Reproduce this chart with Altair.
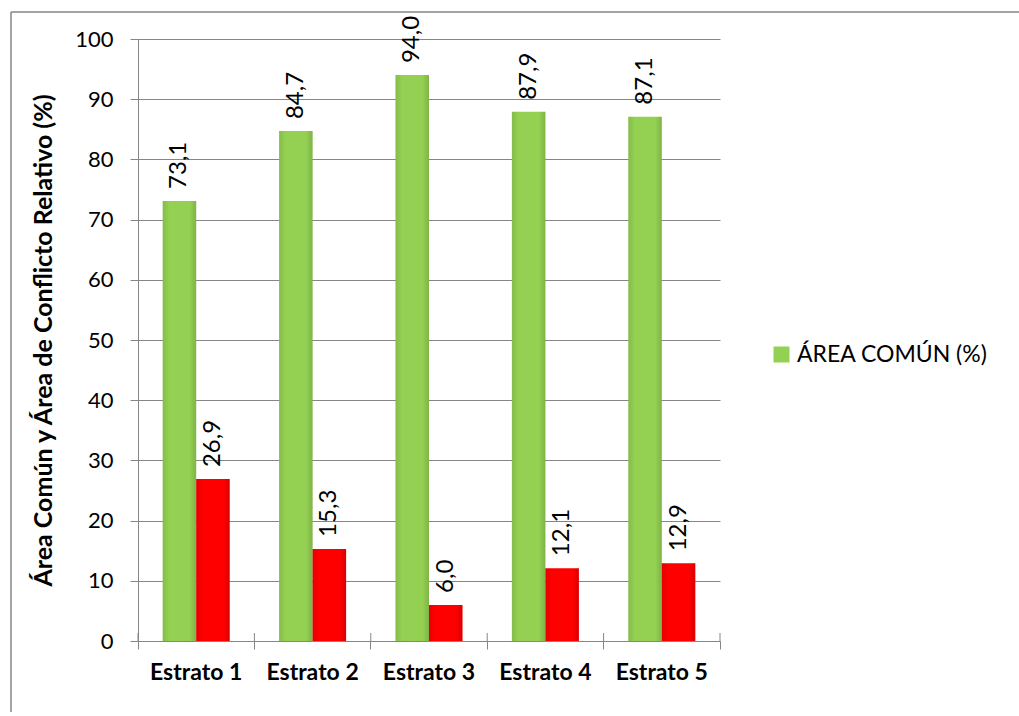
import altair as alt
import pandas as pd

# Data
estratos = ["Estrato 1", "Estrato 2", "Estrato 3", "Estrato 4", "Estrato 5"]
area_comun = [73.1, 84.7, 94.0, 87.9, 87.1]
area_conflicto = [26.9, 15.3, 6.0, 12.1, 12.9]
series = ["ÁREA COMÚN (%)", "ÁREA DE CONFLICTO RELATIVO (%)"]
colores = ["#94D152", "#FF0000"]
y_ticks = list(range(0, 101, 10))

rows = []
for i, e in enumerate(estratos):
    rows.append({"estrato": e, "serie": series[0], "valor": area_comun[i]})
    rows.append({"estrato": e, "serie": series[1], "valor": area_conflicto[i]})
df = pd.DataFrame(rows)

W, H = 582, 602
GRIS = "#868686"
FONT = "Lato"

x_scale = alt.Scale(domain=estratos, paddingInner=0, paddingOuter=0)

x_enc = alt.X(
    "estrato:N",
    sort=estratos,
    title=None,
    scale=x_scale,
    axis=alt.Axis(
        bandPosition=1,
        tickExtra=True,
        labelAngle=0,
        labelFont=FONT,
        labelFontSize=23,
        labelFontWeight="bold",
        labelColor="#000000",
        labelPadding=12,
        tickSize=8,
        tickColor=GRIS,
        domainColor=GRIS,
        grid=False,
    ),
)
xoff = alt.XOffset(
    "serie:N",
    sort=series,
    scale=alt.Scale(domain=series, paddingInner=0, paddingOuter=0.737),
)
y_enc = alt.Y(
    "valor:Q",
    scale=alt.Scale(domain=[0, 100], nice=False),
    title="Área Común y Área de Conflicto Relativo (%)",
    axis=alt.Axis(
        values=y_ticks,
        labelFont=FONT,
        labelFontSize=22,
        labelColor="#000000",
        labelPadding=17,
        tickSize=8,
        tickColor=GRIS,
        domainColor=GRIS,
        gridColor=GRIS,
        gridWidth=1,
        titleFont=FONT,
        titleFontSize=25,
        titleFontWeight="bold",
        titleColor="#000000",
        titleAngle=270,
        titleX=-95,
        titleY=H / 2,
        titleAlign="center",
        titleBaseline="middle",
    ),
)

base = alt.Chart(df)

bars = base.mark_bar().encode(
    x=x_enc,
    xOffset=xoff,
    y=y_enc,
    color=alt.Color(
        "serie:N",
        scale=alt.Scale(domain=series, range=colores),
        legend=alt.Legend(
            title=None,
            values=[series[0]],
            orient="none",
            legendX=632,
            legendY=304,
            padding=0,
            symbolType="square",
            symbolSize=256,
            symbolStrokeWidth=0,
            labelFont=FONT,
            labelFontSize=23,
            labelColor="#000000",
            labelOffset=4,
            labelLimit=0,
        ),
    ),
)

# Bevel-like shading on the bar edges
shade = base.mark_bar(
    fill=alt.Gradient(
        gradient="linear",
        x1=0, x2=1, y1=0, y2=0,
        stops=[
            alt.GradientStop(color="rgba(0,0,0,0.10)", offset=0),
            alt.GradientStop(color="rgba(0,0,0,0.0)", offset=0.2),
            alt.GradientStop(color="rgba(0,0,0,0.0)", offset=0.8),
            alt.GradientStop(color="rgba(0,0,0,0.14)", offset=1),
        ],
    )
).encode(x=x_enc, xOffset=xoff, y=y_enc)

labels = base.transform_calculate(
    etiqueta="replace(format(datum.valor, '.1f'), '.', ',')"
).mark_text(
    angle=270, align="left", baseline="middle", dx=12,
    font=FONT, fontSize=24, color="#000000",
).encode(x=x_enc, xOffset=xoff, y=y_enc, text="etiqueta:N")

# Category tick marks also reach inside the plot, crossing the x axis line
tick_in = base.transform_filter(alt.datum.serie == series[0]).mark_rule(
    color=GRIS, strokeWidth=1
).encode(
    x=alt.X("estrato:N", sort=estratos, scale=x_scale, bandPosition=1),
    y=alt.value(H - 8),
    y2=alt.value(H),
)
tick_in0 = alt.Chart(pd.DataFrame({"k": [0]})).mark_rule(
    color=GRIS, strokeWidth=1
).encode(x=alt.value(0), y=alt.value(H - 8), y2=alt.value(H))

# Outer chart border: top and left edges, kept inside the canvas
TOTAL_W, TOTAL_H = 1019, 712
frame_top = alt.Chart(pd.DataFrame({"k": [0]})).mark_rule(
    color=GRIS, strokeWidth=1.5
).encode(x=alt.value(11 - 138), x2=alt.value(TOTAL_W - 138), y=alt.value(12 - 39))
frame_left = alt.Chart(pd.DataFrame({"k": [0]})).mark_rule(
    color=GRIS, strokeWidth=1.5
).encode(x=alt.value(11 - 138), y=alt.value(12 - 39), y2=alt.value(TOTAL_H - 39))

chart = alt.layer(bars, shade, labels, tick_in, tick_in0, frame_top, frame_left).properties(
    width=W,
    height=H,
    autosize=alt.AutoSizeParams(type="none"),
    padding={"left": 138, "top": 39, "right": TOTAL_W - 138 - W, "bottom": TOTAL_H - 39 - H},
).configure_view(stroke=None)

chart.save("out.html", embed_options={"renderer": "svg", "actions": False})
